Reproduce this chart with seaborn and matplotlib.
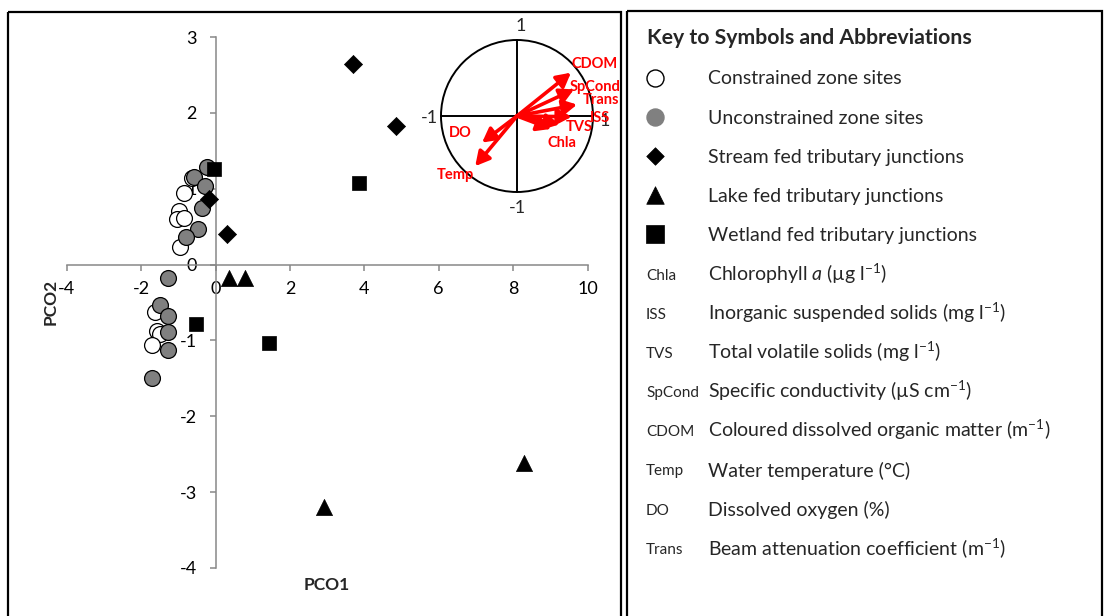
import matplotlib
matplotlib.use("Agg")
import matplotlib.pyplot as plt
from matplotlib.patches import Rectangle, Circle
import seaborn as sns

# ---- PCO site scores ----
constrained_x = [-0.64, -0.84, -0.97, -1.04, -0.85, -0.95, -1.63, -1.58, -1.49, -1.72]
constrained_y = [1.14, 0.95, 0.70, 0.60, 0.61, 0.23, -0.63, -0.88, -0.91, -1.06]
unconstrained_x = [-0.24, -0.58, -0.27, -0.37, -0.48, -0.78, -1.29, -1.49, -1.29, -1.27, -1.27, -1.72]
unconstrained_y = [1.29, 1.16, 1.03, 0.75, 0.47, 0.36, -0.18, -0.53, -0.68, -0.89, -1.12, -1.50]
stream_x = [3.70, 4.84, -0.18, 0.30]
stream_y = [2.64, 1.83, 0.86, 0.40]
lake_x = [0.35, 0.80, 2.91, 8.30]
lake_y = [-0.18, -0.18, -3.19, -2.62]
wetland_x = [-0.03, 3.87, -0.53, 1.45]
wetland_y = [1.26, 1.07, -0.78, -1.03]

# ---- vector loadings on the correlation circle ----
variables = ["CDOM", "SpCond", "Trans", "ISS", "TVS", "Chla", "DO", "Temp"]
load_x = [0.71, 0.75, 0.79, 0.72, 0.56, 0.45, -0.46, -0.55]
load_y = [0.57, 0.35, 0.15, -0.01, -0.11, -0.17, -0.35, -0.66]

# ---- key ----
key_title = "Key to Symbols and Abbreviations"
group_labels = ["Constrained zone sites", "Unconstrained zone sites",
                "Stream fed tributary junctions", "Lake fed tributary junctions",
                "Wetland fed tributary junctions"]
abbrevs = ["Chla", "ISS", "TVS", "SpCond", "CDOM", "Temp", "DO", "Trans"]
abbrev_text = [r"Chlorophyll $\mathit{a}$ (µg l$^{-1}$)",
               r"Inorganic suspended solids (mg l$^{-1}$)",
               r"Total volatile solids (mg l$^{-1}$)",
               r"Specific conductivity (µS cm$^{-1}$)",
               r"Coloured dissolved organic matter (m$^{-1}$)",
               "Water temperature (°C)",
               "Dissolved oxygen (%)",
               r"Beam attenuation coefficient (m$^{-1}$)"]

sns.set_theme(style="white")
plt.rcParams["font.family"] = ["Lato", "DejaVu Sans"]
plt.rcParams["mathtext.fontset"] = "custom"
plt.rcParams["mathtext.rm"] = "Lato"
plt.rcParams["mathtext.it"] = "Lato:italic"
plt.rcParams["mathtext.bf"] = "Lato:bold"
plt.rcParams["axes.unicode_minus"] = False

W, H = 1106, 616
fig = plt.figure(figsize=(W / 100, H / 100), dpi=100)
fig.patch.set_facecolor("white")

# overlay in pixel units for frames, key and axis titles
ax_key = fig.add_axes([0, 0, 1, 1])
ax_key.set_xlim(0, W)
ax_key.set_ylim(H, 0)
ax_key.set_axis_off()

ax_key.add_patch(Rectangle((8, 12), 613, 640, fill=False, lw=1.6,
                           edgecolor="black", clip_on=False))
ax_key.add_patch(Rectangle((627, 11), 475, 640, fill=False, lw=1.6,
                           edgecolor="black", clip_on=False))

# ---- main scatter ----
ax = fig.add_axes([66.7 / W, 1 - 568 / H, (587.5 - 66.7) / W, (568 - 37) / H])
ax.patch.set_alpha(0)
edge = "black"
sns.scatterplot(x=constrained_x, y=constrained_y, ax=ax, marker="o", s=130,
                color="white", edgecolor=edge, linewidth=0.9, zorder=3)
sns.scatterplot(x=unconstrained_x, y=unconstrained_y, ax=ax, marker="o", s=130,
                color="#808080", edgecolor=edge, linewidth=0.9, zorder=4)
sns.scatterplot(x=stream_x, y=stream_y, ax=ax, marker="D", s=85,
                color="black", edgecolor=edge, linewidth=0.5, zorder=5)
sns.scatterplot(x=lake_x, y=lake_y, ax=ax, marker="^", s=135,
                color="black", edgecolor=edge, linewidth=0.5, zorder=5)
sns.scatterplot(x=wetland_x, y=wetland_y, ax=ax, marker="s", s=100,
                color="black", edgecolor=edge, linewidth=0.5, zorder=6)

ax.set_xlim(-4, 10)
ax.set_ylim(-4, 3)
ax.set_xticks(range(-4, 11, 2))
ax.set_yticks(range(-4, 4, 1))
for side in ("top", "right"):
    ax.spines[side].set_visible(False)
axis_grey = "#888888"
ax.spines["left"].set_position(("data", 0))
ax.spines["bottom"].set_position(("data", 0))
for side in ("left", "bottom"):
    ax.spines[side].set_color(axis_grey)
    ax.spines[side].set_linewidth(1.1)
ax.tick_params(axis="both", direction="out", length=4.5, width=1.1,
               color=axis_grey, labelsize=13, labelcolor="black")
ax.tick_params(axis="x", pad=7)
ax.tick_params(axis="y", pad=9)
ax.tick_params(bottom=True, left=True)
ax.set_xlabel("")
ax.set_ylabel("")

ax_key.text(327, 585, "PCO1", fontsize=12.5, fontweight="bold",
            ha="center", va="center")
ax_key.text(51, 302, "PCO2", fontsize=12.5, fontweight="bold",
            ha="center", va="center", rotation=90)

# ---- correlation circle inset ----
cx, cy, r = 517, 116, 76
half = 95
ax_in = fig.add_axes([(cx - half) / W, 1 - (cy + half) / H, 2 * half / W, 2 * half / H])
ax_in.set_xlim(-half / r, half / r)
ax_in.set_ylim(-half / r, half / r)
ax_in.set_axis_off()
ax_in.add_patch(Circle((0, 0), 1, fill=False, lw=1.4, edgecolor="black"))
ax_in.plot([-1, 1], [0, 0], color="black", lw=1.4)
ax_in.plot([0, 0], [-1, 1], color="black", lw=1.4)
ax_in.text(0.05, 1.18, "1", fontsize=13, ha="center", va="center")
ax_in.text(0.0, -1.21, "-1", fontsize=13, ha="center", va="center")
ax_in.text(-1.04, -0.02, "-1", fontsize=13, ha="right", va="center")
ax_in.text(1.16, -0.06, "1", fontsize=13, ha="center", va="center")

label_pos = {"CDOM": (0.72, 0.68), "SpCond": (0.69, 0.38), "Trans": (0.86, 0.21),
             "ISS": (0.96, -0.03), "TVS": (0.64, -0.14), "Chla": (0.40, -0.36),
             "DO": (-0.89, -0.22), "Temp": (-1.06, -0.78)}
red = "#ff0000"
for name, lx, ly in zip(variables, load_x, load_y):
    ax_in.annotate("", xy=(lx, ly), xytext=(0, 0),
                   arrowprops=dict(arrowstyle="-|>,head_length=0.65,head_width=0.35",
                                   mutation_scale=13, color=red, lw=2.6,
                                   shrinkA=0, shrinkB=0))
    tx, ty = label_pos[name]
    ax_in.text(tx, ty, name, color=red, fontsize=10.5, fontweight="bold",
               ha="left", va="center", clip_on=False)

# ---- key panel ----
ax_key.text(647, 44, key_title, fontsize=15.3, fontweight="bold",
            ha="left", va="baseline")
row0, step = 77.5, 39.2
sym_x = 655
styles = [dict(marker="o", s=150, color="white", edgecolor="black", linewidth=1.0),
          dict(marker="o", s=150, color="#808080", edgecolor="#808080", linewidth=1.0),
          dict(marker="D", s=80, color="black", edgecolor="black", linewidth=0.5),
          dict(marker="^", s=160, color="black", edgecolor="black", linewidth=0.5),
          dict(marker="s", s=150, color="black", edgecolor="black", linewidth=0.5)]
for i, (label, st) in enumerate(zip(group_labels, styles)):
    y = row0 + i * step
    ax_key.scatter([sym_x], [y], clip_on=False, zorder=5, **st)
    ax_key.text(708, y + 7, label, fontsize=14, ha="left", va="baseline")
for j, (ab, desc) in enumerate(zip(abbrevs, abbrev_text)):
    y = row0 + (len(group_labels) + j) * step
    ax_key.text(646, y + 6, ab, fontsize=11, ha="left", va="baseline")
    ax_key.text(708, y + 7, desc, fontsize=14, ha="left", va="baseline")

fig.savefig("out.png", dpi=100)
